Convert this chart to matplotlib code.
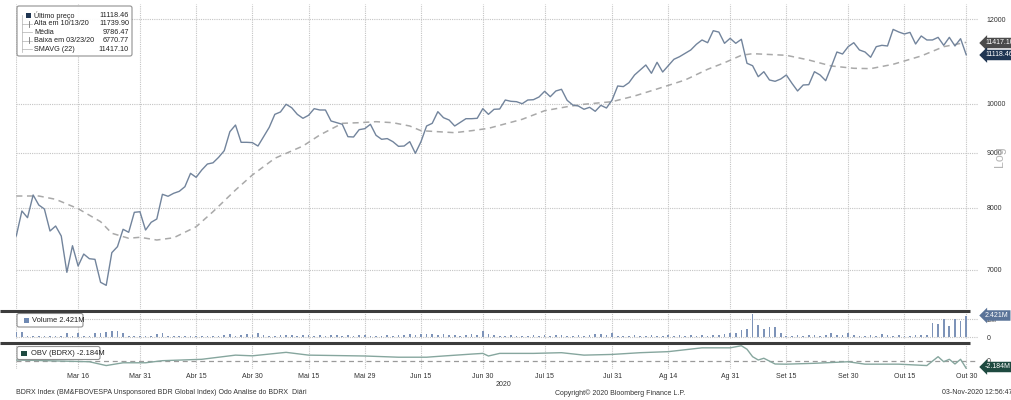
import matplotlib
matplotlib.use("Agg")
import matplotlib.pyplot as plt
import numpy as np
import pandas as pd
from matplotlib.patches import FancyBboxPatch, Rectangle

plt.rcParams["font.family"] = ["Liberation Sans", "DejaVu Sans"]

W, H = 1011, 400

# trading calendar (B3, 2020)
holidays = ["2020-04-10", "2020-04-21", "2020-05-01", "2020-06-11", "2020-09-07", "2020-10-12"]
dates = pd.bdate_range("2020-02-28", "2020-10-30")
dates = dates[~dates.isin(pd.to_datetime(holidays))]

# closing prices, one per trading day
price = [
    7529, 7945, 7831, 8223, 8048, 7979, 7610, 7692, 7529, 6963,
    7373, 7058, 7242, 7170, 7160, 6815, 6770.77, 7264, 7358, 7638,
    7589, 7922, 7932, 7626, 7754, 7809, 8235, 8200, 8253, 8288,
    8371, 8615, 8541, 8677, 8789, 8812, 8917, 9045, 9422, 9558,
    9209, 9209, 9203, 9136, 9321, 9510, 9780, 9830, 9994, 9920,
    9780, 9697, 9760, 9900, 9872, 9872, 9641, 9606, 9573, 9321,
    9315, 9463, 9483, 9573, 9349, 9269, 9283, 9222, 9130, 9136,
    9222, 8994, 9222, 9538, 9593, 9836, 9710, 9662, 9538, 9614,
    9689, 9689, 9697, 9900, 9780, 9887, 9893, 10086, 10058, 10050,
    10006, 10086, 10093, 10152, 10277, 10158, 10284, 10321, 10080, 9979,
    9957, 9887, 9929, 9844, 9972, 9914, 10086, 10395, 10381, 10469,
    10644, 10759, 10875, 10683, 10938, 10712, 10858, 11009, 11071, 11152,
    11232, 11370, 11476, 11409, 11707, 11672, 11394, 11517, 11394, 11493,
    10915, 10858, 10605, 10719, 10530, 10500, 10552, 10644, 10455, 10284,
    10417, 10424, 10719, 10644, 10514, 10835, 11183, 11135, 11312, 11409,
    11232, 11183, 11057, 11312, 11345, 11329, 11739.90, 11675, 11625, 11665,
    11377, 11575, 11476, 11476, 11541, 11345, 11541, 11329, 11508, 11118.46,
]

# SMAVG(22) (trading-day index, value)
sma_idx = [0, 4, 7, 11, 15, 17, 20, 22, 25, 28, 32, 35, 39, 42, 46, 51, 54, 58,
           61, 64, 67, 70, 72, 75, 78, 81, 84, 90, 94, 98, 101, 106, 110, 114,
           119, 123, 126, 129, 131, 137, 141, 145, 149, 152, 156, 161, 165, 169]
sma_val = [8205, 8205, 8147, 7984, 7764, 7573, 7492, 7508, 7464, 7500, 7680, 7933,
           8311, 8584, 8898, 9136, 9355, 9593, 9606, 9627, 9606, 9538, 9442, 9422,
           9402, 9442, 9490, 9676, 9857, 9942, 9994, 10050, 10174, 10328, 10530,
           10775, 10928, 11104, 11143, 11104, 10992, 10852, 10798, 10790, 10891,
           11088, 11312, 11417.10]

# volume, millions
volume = [
    0.55, 0.6, 0.15, 0.15, 0.2, 0.15, 0.2, 0.15, 0.2, 0.45,
    0.15, 0.45, 0.2, 0.15, 0.45, 0.5, 0.6, 0.75, 0.7, 0.45,
    0.2, 0.15, 0.15, 0.1, 0.1, 0.4, 0.45, 0.15, 0.15, 0.15,
    0.15, 0.15, 0.2, 0.15, 0.2, 0.2, 0.2, 0.25, 0.35, 0.2,
    0.3, 0.35, 0.25, 0.45, 0.25, 0.2, 0.2, 0.3, 0.25, 0.3,
    0.2, 0.25, 0.3, 0.2, 0.25, 0.2, 0.3, 0.25, 0.2, 0.3,
    0.2, 0.25, 0.3, 0.2, 0.2, 0.15, 0.25, 0.2, 0.3, 0.25,
    0.35, 0.3, 0.4, 0.35, 0.4, 0.3, 0.35, 0.25, 0.3, 0.2,
    0.25, 0.4, 0.3, 0.7, 0.35, 0.25, 0.2, 0.2, 0.25, 0.2,
    0.2, 0.2, 0.25, 0.2, 0.3, 0.2, 0.25, 0.3, 0.2, 0.2,
    0.25, 0.2, 0.3, 0.35, 0.35, 0.3, 0.5, 0.2, 0.2, 0.2,
    0.25, 0.2, 0.2, 0.25, 0.2, 0.2, 0.25, 0.2, 0.25, 0.2,
    0.25, 0.2, 0.25, 0.2, 0.3, 0.3, 0.35, 0.45, 0.5, 0.82,
    0.9, 2.57, 1.38, 0.9, 1.2, 1.2, 0.45, 0.2, 0.2, 0.25,
    0.2, 0.25, 0.3, 0.2, 0.25, 0.45, 0.3, 0.25, 0.5, 0.25,
    0.2, 0.2, 0.25, 0.2, 0.35, 0.25, 0.2, 0.25, 0.2, 0.2,
    0.25, 0.3, 0.25, 1.56, 1.5, 2.0, 1.27, 2.0, 1.83, 2.421,
]

# on-balance volume, millions (index, value)
obv_idx = [0, 13, 16, 19, 23, 26, 33, 39, 42, 48, 52, 56, 62, 68, 73, 76, 81, 83, 84,
           86, 92, 97, 101, 106, 111, 116, 122, 127, 129, 130, 131, 132, 133, 135,
           137, 142, 148, 151, 157, 162, 164, 165, 166, 167, 168, 169]
obv_val = [0.2, -0.3, -1.4, -0.6, -0.6, 0.0, 0.4, 1.6, 1.4, 2.4, 1.6, 1.5, 1.35, 1.0,
           1.0, 1.35, 1.9, 2.1, 1.35, 2.1, 2.1, 2.3, 1.6, 1.8, 2.3, 2.6, 3.7, 3.7,
           4.3, 3.3, 1.15, 0.2, 0.7, -0.95, -1.0, -0.75, -0.3, -1.0, -1.0, -1.4,
           1.15, -0.3, 0.4, -0.95, 0.4, -2.184]

tick_dates = ["2020-03-16", "2020-03-31", "2020-04-15", "2020-04-30", "2020-05-15",
              "2020-05-29", "2020-06-15", "2020-06-30", "2020-07-15", "2020-07-31",
              "2020-08-14", "2020-08-31", "2020-09-15", "2020-09-30", "2020-10-15",
              "2020-10-30"]
tick_labels = ["Mar 16", "Mar 31", "Abr 15", "Abr 30", "Mai 15", "Mai 29", "Jun 15",
               "Jun 30", "Jul 15", "Jul 31", "Ag 14", "Ag 31", "Set 15", "Set 30",
               "Out 15", "Out 30"]

x = np.arange(len(dates))
tick_pos = [dates.get_loc(pd.Timestamp(d)) for d in tick_dates]

fig = plt.figure(figsize=(W / 100, H / 100), dpi=100)


def box(l, t, r, b):
    return [l / W, 1 - b / H, (r - l) / W, (b - t) / H]


ax = fig.add_axes(box(16, 4, 978, 309))
axv = fig.add_axes(box(16, 313, 978, 339))
axo = fig.add_axes(box(16, 344, 978, 369))

grid_kw = dict(color="#c4c4c4", lw=0.8, ls=(0, (1, 1)))
for a in (ax, axv, axo):
    a.set_xlim(-0.05, 171.1)
    for s in a.spines.values():
        s.set_visible(False)
    a.set_xticks(tick_pos)
    a.tick_params(axis="x", length=0, labelbottom=False)
    a.yaxis.tick_right()
    a.tick_params(axis="y", length=0, pad=6, labelsize=5, labelcolor="#333333")
    for p in tick_pos + [0]:
        a.axvline(p, zorder=0, **grid_kw)

# price panel
ax.plot(x, price, color="#72849c", lw=1.0, zorder=3)
ax.plot(sma_idx, sma_val, color="#a9a9a9", lw=1.1, ls=(0, (4, 3)), zorder=2)
ax.set_yscale("log")
ax.set_ylim(6435, 12399)
ax.set_yticks([7000, 8000, 9000, 10000, 12000])
ax.set_yticklabels(["7000", "8000", "9000", "10000", "12000"])
ax.minorticks_off()
for v in [7000, 8000, 9000, 10000, 12000]:
    ax.axhline(v, zorder=0, **grid_kw)

# volume panel
axv.bar(x, volume, width=0.3, color="#7d93b8", zorder=3)
axv.set_ylim(-0.19, 2.715)
axv.set_yticks([0, 2])
axv.set_yticklabels(["0", "2M"])
for v in [0, 2]:
    axv.axhline(v, zorder=0, **grid_kw)

# OBV panel
axo.plot(obv_idx, obv_val, color="#86a69e", lw=1.0, zorder=3)
axo.axhline(0, color="#9a9a9a", lw=0.9, ls=(0, (4, 3)), zorder=2)
axo.set_ylim(-2.39, 4.8)
axo.set_yticks([0])
axo.set_yticklabels(["0"])
axo.tick_params(axis="x", labelbottom=True, labelsize=5, labelcolor="#333333", pad=3)
axo.set_xticklabels(tick_labels)

# overlay in pixel coordinates for the terminal-style decorations
ov = fig.add_axes([0, 0, 1, 1], zorder=10)
ov.set_xlim(0, W)
ov.set_ylim(H, 0)
ov.axis("off")

for y0 in (310.5, 342.5):
    ov.plot([0, 970], [y0, y0], color="#3c3c3c", lw=2.2, solid_capstyle="butt")

ov.text(1000, 157, "Log", rotation=90, ha="center", va="center", fontsize=9, color="#b5b5b5")

tag_kw = dict(fontsize=5, color="white", va="center", ha="left")
ov.text(985, 43, "11417.10", bbox=dict(boxstyle="larrow,pad=0.25", fc="#4b4b4b", ec="none"), **tag_kw)
ov.text(985, 55, "11118.46", bbox=dict(boxstyle="larrow,pad=0.25", fc="#1f3552", ec="none"), **tag_kw)
ov.text(985, 315.5, "2.421M", bbox=dict(boxstyle="larrow,pad=0.25", fc="#5a7398", ec="none"), **tag_kw)
ov.text(985, 367, "-2.184M", bbox=dict(boxstyle="larrow,pad=0.25", fc="#1e4a40", ec="none"), **tag_kw)


# legend boxes
def legend_box(l, t, r, b):
    ov.add_patch(FancyBboxPatch((l, t), r - l, b - t, boxstyle="round,pad=0,rounding_size=2",
                                fc="white", ec="#8a8a8a", lw=0.8, alpha=0.95))


legend_box(17, 6, 132, 56)
rows = [("Último preço", "11118.46"), ("Alta em 10/13/20", "11739.90"), ("Média", "9786.47"),
        ("Baixa em 03/23/20", "6770.77"), ("SMAVG (22)", "11417.10")]
for i, (lab, val) in enumerate(rows):
    yy = 15.5 + i * 8.4
    ov.text(34, yy, lab, fontsize=5.2, color="#222222", va="center")
    ov.text(129, yy, val, fontsize=5.2, color="#222222", va="center", ha="right")
ov.add_patch(Rectangle((26, 12.5), 5, 5.5, fc="#1f3552", ec="none"))
ov.plot([22, 22], [15, 52], color="#b0b0b0", lw=0.5)
for i in range(1, 5):
    yy = 15.5 + i * 8.4
    ov.plot([22, 32], [yy, yy], color="#b0b0b0", lw=0.5)
ov.plot([29, 29], [21, 27], color="#777777", lw=0.6)
ov.plot([29, 29], [37, 43], color="#777777", lw=0.6)

legend_box(17, 313.5, 83, 327)
ov.add_patch(Rectangle((24, 317.5), 5, 5.5, fc="#6f89b3", ec="none"))
ov.text(32, 320.5, "Volume 2.421M", fontsize=5.4, color="#222222", va="center")

legend_box(17, 346.5, 100, 359.5)
ov.add_patch(Rectangle((21, 350.5), 6, 5.5, fc="#1e4a40", ec="none"))
ov.text(31, 353.3, "OBV (BDRX) -2.184M", fontsize=5.4, color="#222222", va="center")

ov.text(503, 384, "2020", fontsize=5, color="#333333", ha="center", va="center")
ov.text(16, 393, "BDRX Index (BM&FBOVESPA Unsponsored BDR Global Index) Odo Analise do BDRX  Diári",
        fontsize=5, color="#333333", va="center")
ov.text(555, 393, "Copyright© 2020 Bloomberg Finance L.P.", fontsize=5, color="#333333", va="center")
ov.text(942, 393, "03-Nov-2020 12:56:47", fontsize=5, color="#333333", va="center")

fig.savefig("out.png", dpi=100, facecolor="white")
